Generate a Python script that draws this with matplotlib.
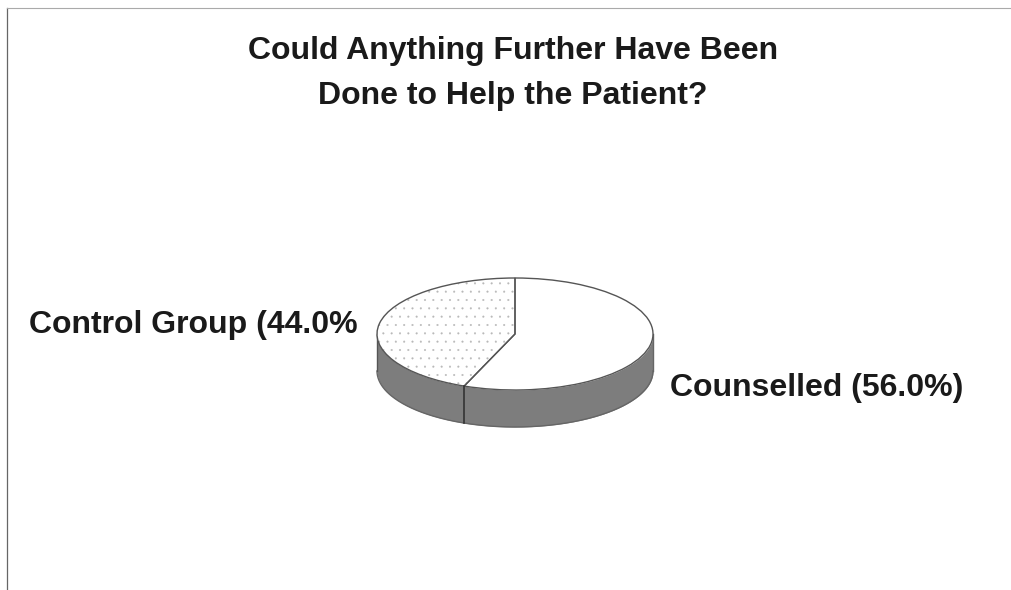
import numpy as np
import matplotlib
matplotlib.use("Agg")
import matplotlib.pyplot as plt

title_lines = ["Could Anything Further Have Been", "Done to Help the Patient?"]
categories = ["Counselled (56.0%)", "Control Group (44.0%"]
values = [56.0, 44.0]

W, H = 1012, 590
CX, CY, RX, RY, DEPTH = 515, 334, 138, 56, 37
plt.rcParams['font.family'] = ['Liberation Sans', 'DejaVu Sans']
plt.rcParams['hatch.linewidth'] = 0.25

fig = plt.figure(figsize=(W / 100, H / 100), dpi=100, facecolor='white')
ax = fig.add_axes([0, 0, 1, 1])

# Side wall of the pie
t = np.linspace(np.pi, 2 * np.pi, 300)
d = DEPTH / RY
wall_x, wall_top = np.cos(t), np.sin(t)
ax.fill_between(wall_x, wall_top - d, wall_top, color='#7d7d7d', lw=0, zorder=1)
ax.plot(wall_x, wall_top - d, color='#666666', lw=1.0, zorder=3)
ax.plot([-1, -1], [0, -d], color='#555555', lw=1.0, zorder=3)
ax.plot([1, 1], [0, -d], color='#666666', lw=1.0, zorder=3)

# Top face: fill with a faint stipple on the control slice
fills, _ = ax.pie(values, startangle=90, counterclock=False, radius=1, center=(0, 0),
                  colors=['white', 'white'],
                  wedgeprops=dict(linewidth=0, zorder=4))
fills[1].set_hatch('..')
fills[1].set_edgecolor('#b8b8b8')

# Top face: outlines
ax.pie(values, startangle=90, counterclock=False, radius=1, center=(0, 0),
       colors=['none', 'none'],
       wedgeprops=dict(edgecolor='#555555', linewidth=1.0, zorder=5))

# Wall divider under the slice boundary
end = np.deg2rad(90 - 360 * values[0] / sum(values))
ax.plot([np.cos(end)] * 2, [np.sin(end), np.sin(end) - d], color='#333333', lw=1.2, zorder=6)

ax.set_aspect('auto')
ax.set_xlim((0 - CX) / RX, (W - CX) / RX)
ax.set_ylim((CY - H) / RY, CY / RY)
ax.set_frame_on(False)
ax.set_xticks([])
ax.set_yticks([])

def px(x, y):
    return (x / W, 1 - y / H)

# Frame remnants
fig.add_artist(plt.Line2D([7 / W, 7 / W], [1 - 8 / H, 0], color='#666666', lw=0.9))
fig.add_artist(plt.Line2D([7 / W, 1], [1 - 8 / H, 1 - 8 / H], color='#aaaaaa', lw=0.8))

style = dict(va='center', fontsize=23, fontweight='bold', color='#1a1a1a')
fig.text(*px(513, 51), title_lines[0], ha='center', **style)
fig.text(*px(513, 96), title_lines[1], ha='center', **style)
fig.text(*px(670, 388), categories[0], ha='left', **style)
fig.text(*px(29, 325), categories[1], ha='left', **style)

fig.savefig('out.png', dpi=100, facecolor='white')
